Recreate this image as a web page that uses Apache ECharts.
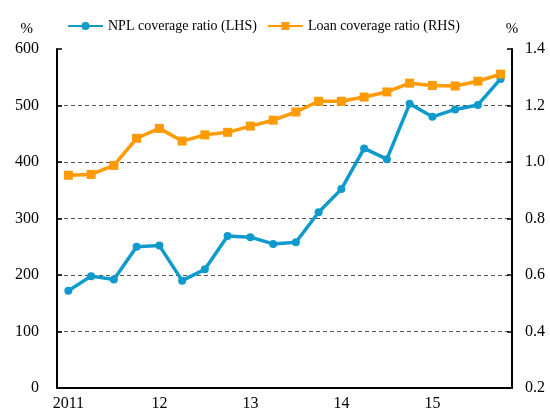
<!DOCTYPE html>
<html>
<head>
<meta charset="utf-8">
<script src="https://cdn.jsdelivr.net/npm/echarts@6/dist/echarts.min.js"></script>
<style>html,body{margin:0;padding:0;background:#fff}#c{width:550px;height:416px}</style>
</head>
<body>
<div id="c"></div>
<script>
var categories = ['2011','','','','12','','','','13','','','','14','','','','15','','',''];
var nplCoverage = [172,198,192,250,252,190,210,269,267,255,258,311,352,424,405,503,480,493,501,547];
var loanCoverage = [0.953,0.956,0.988,1.084,1.119,1.074,1.096,1.105,1.127,1.148,1.177,1.215,1.215,1.230,1.248,1.279,1.271,1.269,1.286,1.311];
var leftTicks = [0,600,100];
var rightTicks = [0.2,1.4,0.2];

var font = 'Liberation Serif, Times New Roman, serif';
var chart = echarts.init(document.getElementById('c'));
chart.setOption({
  animation:false,
  backgroundColor:'#fff',
  textStyle:{fontFamily:font},
  legend:{
    left:62, top:14, itemWidth:35, itemHeight:10, itemGap:10,
    textStyle:{fontFamily:font, fontSize:14, color:'#000'},
    data:['NPL coverage ratio (LHS)','Loan coverage ratio (RHS)']
  },
  grid:{left:57, right:38, top:49, bottom:28},
  xAxis:{
    type:'category', data:categories, boundaryGap:true,
    axisLine:{lineStyle:{color:'#000', width:2}},
    axisTick:{inside:true, interval:3, length:5, lineStyle:{color:'#000', width:1.5}},
    axisLabel:{interval:3, color:'#000', fontSize:16, fontFamily:font, margin:8},
    splitLine:{show:false}
  },
  yAxis:[{
    type:'value', min:leftTicks[0], max:leftTicks[1], interval:leftTicks[2],
    name:'%', nameLocation:'end', nameGap:12,
    nameTextStyle:{color:'#000', fontSize:15, fontFamily:font, align:'right', padding:[0,24,0,0]},
    axisLine:{show:true, lineStyle:{color:'#000', width:2}},
    axisTick:{show:true, inside:true, length:5, lineStyle:{color:'#000', width:1.5}},
    axisLabel:{color:'#000', fontSize:16, fontFamily:font, margin:18},
    splitLine:{show:true, showMinLine:false, showMaxLine:false, lineStyle:{color:'#555', type:[4,3], width:1}}
  },{
    type:'value', min:rightTicks[0], max:rightTicks[1], interval:rightTicks[2],
    name:'%', nameLocation:'end', nameGap:12,
    nameTextStyle:{color:'#000', fontSize:15, fontFamily:font},
    axisLine:{show:true, lineStyle:{color:'#000', width:2}},
    axisTick:{show:true, inside:true, length:5, lineStyle:{color:'#000', width:1.5}},
    axisLabel:{color:'#000', fontSize:16, fontFamily:font, margin:13, formatter:function(v){return v.toFixed(1);}},
    splitLine:{show:false}
  }],
  series:[{
    name:'NPL coverage ratio (LHS)', type:'line', yAxisIndex:0, data:nplCoverage,
    symbol:'circle', symbolSize:8, color:'#0E9ACD',
    lineStyle:{width:3.5, color:'#0E9ACD'}, itemStyle:{color:'#0E9ACD'}
  },{
    name:'Loan coverage ratio (RHS)', type:'line', yAxisIndex:1, data:loanCoverage,
    symbol:'rect', symbolSize:9, color:'#FF9A00',
    lineStyle:{width:3.5, color:'#FF9A00'}, itemStyle:{color:'#FF9A00'}
  }]
});
</script>
</body>
</html>
